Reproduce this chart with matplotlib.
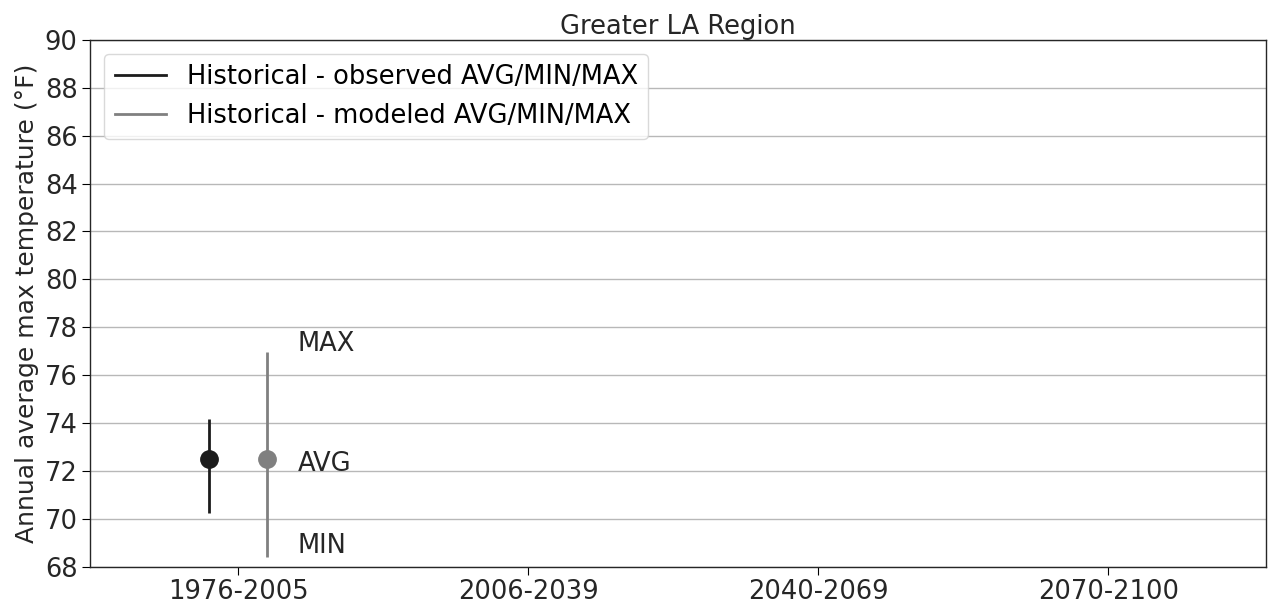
import numpy as np
import matplotlib.pyplot as plt
from matplotlib.lines import Line2D

periods = ['1976-2005', '2006-2039', '2040-2069', '2070-2100']
obs_avg = [72.5]
obs_min = [70.25]
obs_max = [74.15]
mod_avg = [72.5]
mod_min = [68.4]
mod_max = [76.95]

obs_color = '#1c1c1c'
mod_color = '#808080'
fs = 18.5

fig, ax = plt.subplots(figsize=(12.7, 6.04), dpi=100)
fig.subplots_adjust(left=0.071, right=0.997, top=0.934, bottom=0.062)

x = np.arange(len(periods))
off = 0.1
xo = x[:len(obs_avg)] - off
xm = x[:len(mod_avg)] + off

ax.vlines(xo, obs_min, obs_max, color=obs_color, lw=2, zorder=3)
ax.plot(xo, obs_avg, 'o', color=obs_color, ms=12.5, zorder=4)
ax.vlines(xm, mod_min, mod_max, color=mod_color, lw=2, zorder=3)
ax.plot(xm, mod_avg, 'o', color=mod_color, ms=12.5, zorder=4)

# labels next to the modeled bar
tx = xm[0] + 0.105
ax.text(tx, mod_max[0] + 0.35, 'MAX', fontsize=fs, va='center', ha='left', color='#262626')
ax.text(tx, mod_avg[0] - 0.2, 'AVG', fontsize=fs, va='center', ha='left', color='#262626')
ax.text(tx, mod_min[0] + 0.45, 'MIN', fontsize=fs, va='center', ha='left', color='#262626')

ax.set_xticks(x)
ax.set_xticklabels(periods, fontsize=fs, color='#262626')
ax.set_xlim(-0.51, 3.545)
ax.set_ylim(68, 90)
ax.set_yticks(np.arange(68, 91, 2))
ax.tick_params(axis='y', labelsize=fs, labelcolor='#262626', length=6, pad=3)
ax.tick_params(axis='x', length=6, pad=3)
ax.grid(axis='y', color='#b8b8b8', lw=1)
ax.set_axisbelow(True)
for s in ax.spines.values():
    s.set_color('#262626')
    s.set_linewidth(1)

ax.set_ylabel('Annual average max temperature (°F)', fontsize=18, color='#262626', labelpad=4)
ax.set_title('Greater LA Region', fontsize=fs, color='#262626', pad=4)

handles = [Line2D([], [], color=obs_color, lw=2),
           Line2D([], [], color=mod_color, lw=2)]
ax.legend(handles, ['Historical - observed AVG/MIN/MAX', 'Historical - modeled AVG/MIN/MAX'],
          loc='upper left', fontsize=fs, frameon=True, edgecolor='#d0d0d0',
          handlelength=2.0, borderaxespad=0.55)

plt.savefig('out.png', dpi=100)
